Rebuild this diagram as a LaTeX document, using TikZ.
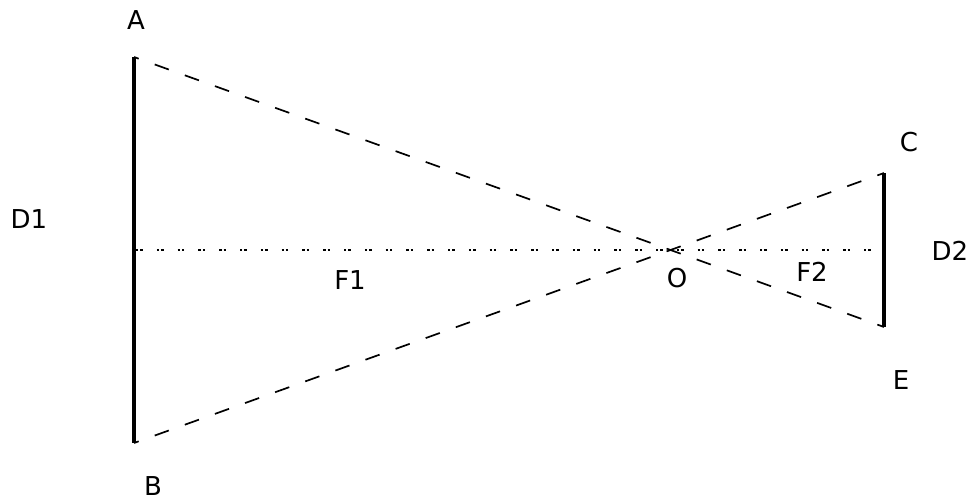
\documentclass[tikz,border=0pt]{standalone}
\usepackage{fontspec}
\setmainfont{DejaVu Sans}
\begin{document}
\begin{tikzpicture}[x=1pt,y=-1pt,
  lbl/.style={inner sep=0pt,font=\fontsize{26}{30}\selectfont},
  screen/.style={line width=3.5pt},
  ray/.style={line width=1.7pt,dash pattern=on 15pt off 17pt,dash phase=-22pt},
  axisline/.style={line width=2.4pt,dash pattern=on 2.4pt off 2pt on 2.4pt off 14pt}]
\useasboundingbox (0,0) rectangle (972,501);
\coordinate (A1) at (134,57);
\coordinate (B1) at (134,443);
\coordinate (C1) at (884,173);
\coordinate (E1) at (884,327);
\coordinate (M1) at (136,250);
\coordinate (M2) at (884,250);
\coordinate (O1) at (670.5,250);
\draw[screen] (A1) -- (B1);
\draw[screen] (C1) -- (E1);
\draw[axisline] (M1) -- (M2);
\draw[ray] (A1) -- (O1) -- (E1);
\draw[ray] (B1) -- (O1) -- (C1);
\node[lbl] (A) at (136,20) {A};
\node[lbl] (B) at (153,486) {B};
\node[lbl] (C) at (909,142) {C};
\node[lbl] (E) at (901,380) {E};
\node[lbl] (D1) at (29,219) {D1};
\node[lbl] (D2) at (950,251) {D2};
\node[lbl] (F1) at (350,280) {F1};
\node[lbl] (O) at (677,278) {O};
\node[lbl] (F2) at (812,272) {F2};
\end{tikzpicture}
\end{document}
